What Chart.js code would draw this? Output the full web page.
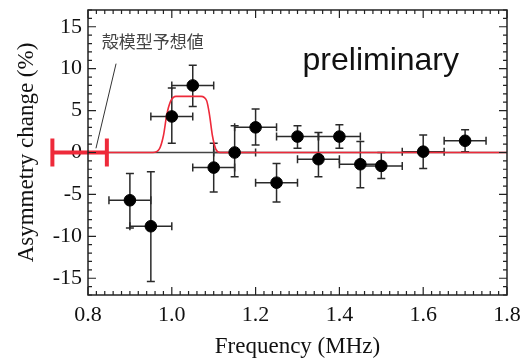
<!DOCTYPE html>
<html>
<head>
<meta charset="utf-8">
<script src="https://cdn.jsdelivr.net/npm/chart.js@4.4.1/dist/chart.umd.min.js"></script>
<style>
  html, body { margin: 0; padding: 0; background: #fff; }
  #wrap { width: 530px; height: 358px; }
</style>
</head>
<body>
<div id="wrap"><canvas id="asymChart" width="530" height="358"></canvas></div>
<script>
// measured points (frequency in MHz, asymmetry change in %)
const freq     = [0.90, 0.95, 1.00, 1.05, 1.10, 1.15, 1.20, 1.25, 1.30, 1.35, 1.40, 1.45, 1.50, 1.60, 1.70];
const freqErr  = [0.05, 0.05, 0.05, 0.05, 0.05, 0.05, 0.05, 0.05, 0.05, 0.05, 0.05, 0.05, 0.05, 0.05, 0.05];
const asym     = [-5.7, -8.8, 4.3, 8.0, -1.8, 0.0, 3.0, -3.6, 1.9, -0.8, 1.9, -1.4, -1.6, 0.1, 1.4];
const asymLow  = [-9.0, -15.4, 1.1, 5.5, -4.7, -2.9, 0.9, -5.9, 0.5, -2.9, 0.5, -4.2, -3.1, -1.9, 0.1];
const asymHigh = [-2.5, -2.3, 7.7, 10.4, 1.1, 3.2, 5.2, -1.3, 3.2, 2.4, 3.3, 1.3, 0.0, 2.1, 2.7];

// red resonance curve
const curveFreq = [0.80, 0.955, 0.97, 0.98, 0.988, 0.997, 1.01, 1.07, 1.083, 1.09, 1.097, 1.105, 1.115, 1.80];
const curveAsym = [0, 0, 0.4, 2.0, 4.5, 6.1, 6.7, 6.7, 6.2, 4.5, 2.0, 0.4, 0, 0];

// shell model prediction range
const shellFreq = [0.715, 0.845];
const shellAsym = [0, 0];

// axis ticks
const xTicks = ["0.8", "1.0", "1.2", "1.4", "1.6", "1.8"];
const yTicks = [-15, -10, -5, 0, 5, 10, 15];

const annoText = "殻模型予想値";
const prelimText = "preliminary";

const serif = "'Liberation Serif', 'Times New Roman', serif";
const red = "#ee2a3a";

const pts = freq.map((f, i) => ({ x: f, y: asym[i] }));
const curve = curveFreq.map((f, i) => ({ x: f, y: curveAsym[i] }));
const shell = shellFreq.map((f, i) => ({ x: f, y: shellAsym[i] }));

const decor = {
  id: "decor",
  beforeDatasetsDraw(chart) {
    const { ctx, scales: { x, y } } = chart;
    ctx.save();
    ctx.strokeStyle = "#2a2a2a";
    ctx.lineWidth = 1.5;
    const cap = 4;
    pts.forEach((p, i) => {
      const px = x.getPixelForValue(p.x), py = y.getPixelForValue(p.y);
      const x0 = x.getPixelForValue(p.x - freqErr[i]), x1 = x.getPixelForValue(p.x + freqErr[i]);
      const y0 = y.getPixelForValue(asymLow[i]), y1 = y.getPixelForValue(asymHigh[i]);
      ctx.beginPath();
      ctx.moveTo(px, y0); ctx.lineTo(px, y1);
      ctx.moveTo(px - cap, y0); ctx.lineTo(px + cap, y0);
      ctx.moveTo(px - cap, y1); ctx.lineTo(px + cap, y1);
      ctx.moveTo(x0, py); ctx.lineTo(x1, py);
      ctx.moveTo(x0, py - cap); ctx.lineTo(x0, py + cap);
      ctx.moveTo(x1, py - cap); ctx.lineTo(x1, py + cap);
      ctx.stroke();
    });
    ctx.restore();
  },
  afterDatasetsDraw(chart) {
    const { ctx, chartArea: a, scales: { x, y } } = chart;
    ctx.save();
    // shell model caps
    ctx.strokeStyle = red;
    ctx.lineWidth = 4;
    shell.forEach(p => {
      const px = x.getPixelForValue(p.x), py = y.getPixelForValue(p.y);
      ctx.beginPath();
      ctx.moveTo(px, py - 14); ctx.lineTo(px, py + 14);
      ctx.stroke();
    });
    // frame
    ctx.strokeStyle = "#222";
    ctx.lineWidth = 1.5;
    ctx.strokeRect(a.left, a.top, a.right - a.left, a.bottom - a.top);
    // inward ticks on four sides
    ctx.lineWidth = 1.2;
    ctx.beginPath();
    for (let k = 0; k <= 50; k++) {
      const v = 0.8 + k * 0.02;
      const px = x.getPixelForValue(v);
      const len = k % 10 === 0 ? 8 : 4;
      ctx.moveTo(px, a.bottom); ctx.lineTo(px, a.bottom - len);
      ctx.moveTo(px, a.top); ctx.lineTo(px, a.top + len);
    }
    for (let v = -17; v <= 17; v++) {
      const py = y.getPixelForValue(v);
      const len = v % 5 === 0 ? 8 : 4;
      ctx.moveTo(a.left, py); ctx.lineTo(a.left + len, py);
      ctx.moveTo(a.right, py); ctx.lineTo(a.right - len, py);
    }
    ctx.stroke();
    // annotation line and label
    ctx.strokeStyle = "#333";
    ctx.lineWidth = 1;
    ctx.beginPath();
    ctx.moveTo(x.getPixelForValue(0.867), y.getPixelForValue(10.6));
    ctx.lineTo(x.getPixelForValue(0.819), y.getPixelForValue(0.5));
    ctx.stroke();
    ctx.fillStyle = "#444";
    ctx.font = "17px 'Noto Sans CJK JP'";
    ctx.textBaseline = "middle";
    ctx.fillText(annoText, x.getPixelForValue(0.833), y.getPixelForValue(13.2));
    ctx.fillStyle = "#111";
    ctx.font = "32px 'Liberation Sans', Arial, sans-serif";
    ctx.fillText(prelimText, x.getPixelForValue(1.312), y.getPixelForValue(10.85));
    ctx.restore();
  }
};

new Chart(document.getElementById("asymChart"), {
  type: "scatter",
  data: {
    datasets: [
      {
        label: "data",
        data: pts,
        backgroundColor: "#000",
        borderColor: "#000",
        pointRadius: 5.8,
        pointHoverRadius: 5.8,
        order: 0
      },
      {
        type: "line",
        label: "curve",
        data: curve,
        borderColor: red,
        borderWidth: 1.6,
        pointRadius: 0,
        cubicInterpolationMode: "monotone",
        fill: false,
        order: 1
      },
      {
        type: "line",
        label: "shell",
        data: shell,
        borderColor: red,
        borderWidth: 4,
        pointRadius: 0,
        clip: false,
        fill: false,
        order: 1
      },
      {
        type: "line",
        label: "zero",
        data: [{ x: 0.8, y: 0 }, { x: 1.8, y: 0 }],
        borderColor: "#444",
        borderWidth: 1.5,
        pointRadius: 0,
        fill: false,
        order: 2
      }
    ]
  },
  options: {
    responsive: false,
    animation: false,
    layout: { padding: { top: 10, right: 23, left: 0, bottom: 0 } },
    plugins: { legend: { display: false }, tooltip: { enabled: false } },
    scales: {
      x: {
        type: "linear",
        min: 0.8,
        max: 1.8,
        afterFit: s => { s.height = 63; s.paddingLeft = 0; s.paddingRight = 0; },
        afterBuildTicks: s => { s.ticks = xTicks.map(t => ({ value: parseFloat(t) })); },
        ticks: {
          padding: 7,
          color: "#111",
          font: { family: serif, size: 22 },
          callback: v => xTicks.find(t => Math.abs(parseFloat(t) - v) < 1e-6)
        },
        grid: { display: false, drawTicks: false },
        border: { display: false },
        title: { display: true, text: "Frequency (MHz)", color: "#111", font: { family: serif, size: 23, lineHeight: 1 }, padding: 0 }
      },
      y: {
        min: -17,
        max: 17,
        afterFit: s => { s.width = 88; s.paddingTop = 0; s.paddingBottom = 0; },
        afterBuildTicks: s => { s.ticks = yTicks.map(v => ({ value: v })); },
        ticks: {
          padding: 6,
          color: "#111",
          font: { family: serif, size: 22 },
          callback: v => String(v)
        },
        grid: { display: false, drawTicks: false },
        border: { display: false },
        title: { display: true, text: "Asymmetry change (%)", color: "#111", font: { family: serif, size: 23, lineHeight: 1 }, padding: { top: 15, bottom: 0 } }
      }
    }
  },
  plugins: [decor]
});
</script>
</body>
</html>
